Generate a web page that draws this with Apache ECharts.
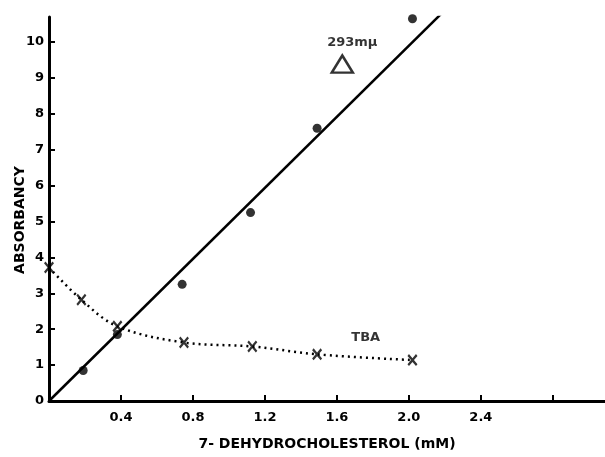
<!DOCTYPE html>
<html>
<head>
<meta charset="utf-8">
<script src="https://cdn.jsdelivr.net/npm/echarts@6/dist/echarts.min.js"></script>
<style>
  html, body { margin: 0; padding: 0; background: #fff; }
  #chart { width: 605px; height: 457px; }
</style>
</head>
<body>
<div id="chart"></div>
<script>
// 293 mμ absorbance points (filled dots)
const dotX = [0.19, 0.38, 0.74, 1.12, 1.49, 2.02]
const dotY = [0.85, 1.85, 3.25, 5.25, 7.6, 10.65]
// fitted straight line end points
const fitX = [0, 2.19]
const fitY = [0, 10.84]
// TBA points (crosses)
const tbaX = [0, 0.18, 0.38, 0.75, 1.13, 1.49, 2.02]
const tbaY = [3.72, 2.82, 2.08, 1.63, 1.52, 1.3, 1.14]
const xTickLabels = ['0.4', '0.8', '1.2', '1.6', '2.0', '2.4']
const yTickLabels = ['0', '1', '2', '3', '4', '5', '6', '7', '8', '9', '10']

const font = 'DejaVu Sans'
const crossPath = 'path://M0,1.5L1.5,0L5,3.5L8.5,0L10,1.5L6.5,5L10,8.5L8.5,10L5,6.5L1.5,10L0,8.5L3.5,5Z'
const zip = (xs, ys) => xs.map((x, i) => [x, ys[i]])

const chart = echarts.init(document.getElementById('chart'))
chart.setOption({
  animation: false,
  grid: { left: 49, top: 17, right: 0, bottom: 56, outerBoundsMode: 'none', containLabel: false },
  xAxis: {
    type: 'value',
    min: 0,
    max: 3.09,
    interval: 0.4,
    name: '7- DEHYDROCHOLESTEROL (mM)',
    nameLocation: 'middle',
    nameGap: 36,
    nameMoveOverlap: false,
    nameTextStyle: { fontFamily: font, fontWeight: 'bold', fontSize: 14, color: '#000' },
    axisLine: { lineStyle: { color: '#000', width: 3 } },
    axisTick: { inside: true, length: 6, lineStyle: { color: '#000', width: 2 } },
    splitLine: { show: false },
    axisLabel: {
      margin: 10,
      fontFamily: font, fontWeight: 'bold', fontSize: 13, color: '#000',
      showMaxLabel: false,
      formatter: v => {
        const s = v.toFixed(1)
        return xTickLabels.includes(s) ? s : ''
      }
    }
  },
  yAxis: {
    type: 'value',
    min: 0,
    max: 10.7,
    interval: 1,
    name: 'ABSORBANCY',
    nameLocation: 'middle',
    nameRotate: 90,
    nameGap: 22,
    nameMoveOverlap: false,
    nameTextStyle: { fontFamily: font, fontWeight: 'bold', fontSize: 14, color: '#000', padding: [0, 22, 0, 0] },
    axisLine: { lineStyle: { color: '#000', width: 3 } },
    axisTick: { inside: true, length: 6, lineStyle: { color: '#000', width: 2 } },
    splitLine: { show: false },
    axisLabel: {
      margin: 5,
      fontFamily: font, fontWeight: 'bold', fontSize: 13, color: '#000',
      showMaxLabel: false,
      formatter: v => {
        const s = String(Math.round(v))
        return Math.abs(v - Math.round(v)) < 1e-6 && yTickLabels.includes(s) ? s : ''
      }
    }
  },
  series: [
    {
      type: 'line',
      data: zip(fitX, fitY),
      symbol: 'none',
      lineStyle: { color: '#000', width: 2.5 },
      z: 3
    },
    {
      type: 'scatter',
      data: zip(dotX, dotY),
      symbol: 'circle',
      symbolSize: 9,
      itemStyle: { color: '#000' },
      z: 4
    },
    {
      type: 'line',
      data: zip(tbaX, tbaY),
      smooth: 0.35,
      symbol: 'none',
      lineStyle: { color: '#000', width: 2.5, type: [2, 4] },
      z: 2
    },
    {
      type: 'scatter',
      data: zip(tbaX, tbaY),
      symbol: crossPath,
      symbolSize: [10, 12],
      itemStyle: { color: '#000' },
      z: 5
    },
    {
      type: 'scatter',
      data: [[1.63, 9.39]],
      symbol: 'triangle',
      symbolSize: [21, 17],
      itemStyle: { color: '#fff', borderColor: '#000', borderWidth: 2.5 },
      label: {
        show: true,
        position: 'top',
        distance: 5,
        offset: [10, 0],
        formatter: '293mμ',
        fontFamily: font, fontWeight: 'bold', fontSize: 13, color: '#000'
      },
      z: 5
    },
    {
      type: 'scatter',
      data: [[1.76, 1.76]],
      symbolSize: 0,
      label: {
        show: true,
        position: 'inside',
        formatter: 'TBA',
        fontFamily: font, fontWeight: 'bold', fontSize: 13, color: '#000'
      }
    }
  ]
})
</script>
</body>
</html>
